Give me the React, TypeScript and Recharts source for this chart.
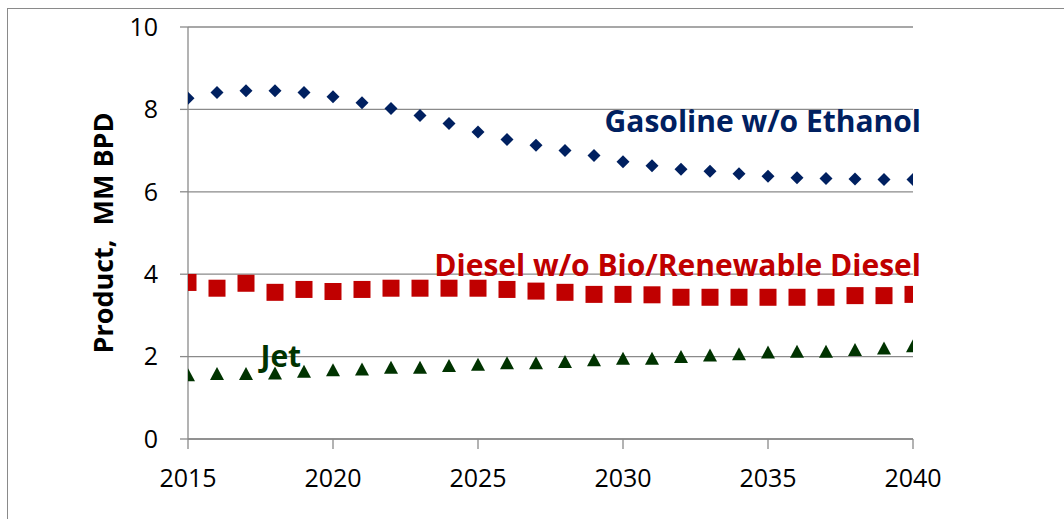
import React from "react";
import {
  ScatterChart,
  Scatter,
  XAxis,
  YAxis,
  CartesianGrid,
  ReferenceDot,
} from "recharts";

const years = [
  2015, 2016, 2017, 2018, 2019, 2020, 2021, 2022, 2023, 2024, 2025, 2026, 2027,
  2028, 2029, 2030, 2031, 2032, 2033, 2034, 2035, 2036, 2037, 2038, 2039, 2040,
];
const gasoline = [
  8.27, 8.41, 8.45, 8.45, 8.41, 8.31, 8.16, 8.02, 7.85, 7.66, 7.45, 7.27, 7.13,
  7.0, 6.88, 6.73, 6.63, 6.55, 6.5, 6.44, 6.38, 6.34, 6.32, 6.31, 6.3, 6.3,
];
const diesel = [
  3.8, 3.66, 3.78, 3.56, 3.63, 3.58, 3.63, 3.66, 3.66, 3.66, 3.66, 3.63, 3.59,
  3.56, 3.51, 3.51, 3.5, 3.44, 3.44, 3.44, 3.44, 3.44, 3.44, 3.48, 3.48, 3.51,
];
const jet = [
  1.53, 1.56, 1.56, 1.57, 1.61, 1.65, 1.67, 1.71, 1.71, 1.75, 1.78, 1.82, 1.82,
  1.85, 1.89, 1.93, 1.93, 1.97, 2.01, 2.04, 2.08, 2.1, 2.1, 2.14, 2.18, 2.23,
];
const xTicks = [2015, 2020, 2025, 2030, 2035, 2040];
const yTicks = [0, 2, 4, 6, 8, 10];

const seriesNames = ["Gasoline w/o Ethanol", "Diesel w/o Bio/Renewable Diesel", "Jet"];
const labelX = [2040, 2040, 2018.2];
const labelY = [7.72, 4.22, 2.01];

const COLORS = { gasoline: "#002060", diesel: "#C00000", jet: "#003300" };
const AXIS = "#8a8a8a";
const FONT = "'Open Sans', sans-serif";

const toPts = (vals: number[]) => years.map((x, i) => ({ x, y: vals[i] }));

const Diamond = (p: any) => {
  const { cx, cy, fill } = p;
  const h = 6.5;
  return <path d={`M${cx},${cy - h}L${cx + h},${cy}L${cx},${cy + h}L${cx - h},${cy}Z`} fill={fill} />;
};
const Square = (p: any) => {
  const { cx, cy, fill } = p;
  const s = 17;
  return <rect x={cx - s / 2} y={cy - s / 2} width={s} height={s} fill={fill} />;
};
const Triangle = (p: any) => {
  const { cx, cy, fill } = p;
  const w = 14, h = 13;
  return (
    <path
      d={`M${cx},${cy - h * 0.6}L${cx + w / 2},${cy + h * 0.4}L${cx - w / 2},${cy + h * 0.4}Z`}
      fill={fill}
    />
  );
};

const makeLabel = (text: string, color: string, anchor: "end" | "middle", dx: number) =>
  (props: any) => {
    const vb = props.viewBox || {};
    const cx = vb.x + (vb.width || 0) / 2;
    const cy = vb.y + (vb.height || 0) / 2;
    return (
      <text
        x={cx + dx}
        y={cy}
        dy="0.36em"
        textAnchor={anchor}
        fill={color}
        fontFamily={FONT}
        fontWeight={700}
        fontSize={30}
      >
        {text}
      </text>
    );
  };

export default function App() {
  return (
    <div style={{ position: "absolute", left: 0, top: 0, width: 1064, height: 519, background: "#fff", overflow: "hidden" }}>
      <div
        style={{
          position: "absolute",
          left: 7,
          top: 8,
          width: 1100,
          height: 600,
          borderLeft: `1px solid ${AXIS}`,
          borderTop: `1px solid ${AXIS}`,
        }}
      />
      <div style={{ position: "absolute", left: 0, top: 0 }}>
        <ScatterChart width={1064} height={519} margin={{ top: 27, right: 151, bottom: 0, left: 0 }}>
          <CartesianGrid horizontal vertical={false} stroke={AXIS} strokeWidth={1.3} />
          <XAxis
            type="number"
            dataKey="x"
            domain={[2015, 2040]}
            ticks={xTicks}
            height={80}
            tickSize={10}
            tickMargin={20}
            axisLine={{ stroke: AXIS, strokeWidth: 1.3 }}
            tickLine={{ stroke: AXIS, strokeWidth: 1.3 }}
            tick={{ fill: "#000", fontSize: 25, fontFamily: FONT }}
            allowDataOverflow
          />
          <YAxis
            type="number"
            dataKey="y"
            domain={[0, 10]}
            ticks={yTicks}
            width={188}
            tickSize={8}
            tickMargin={22}
            axisLine={{ stroke: AXIS, strokeWidth: 1.3 }}
            tickLine={{ stroke: AXIS, strokeWidth: 1.3 }}
            tick={{ fill: "#000", fontSize: 25, fontFamily: FONT }}
            label={{
              value: "Product,\u00a0 MM BPD",
              angle: -90,
              position: "insideLeft",
              dx: 98,
              style: { fontFamily: FONT, fontWeight: 700, fontSize: 27, fill: "#000", textAnchor: "middle" },
            }}
          />
          <Scatter data={toPts(gasoline)} fill={COLORS.gasoline} shape={Diamond} isAnimationActive={false} />
          <Scatter data={toPts(diesel)} fill={COLORS.diesel} shape={Square} isAnimationActive={false} />
          <Scatter data={toPts(jet)} fill={COLORS.jet} shape={Triangle} isAnimationActive={false} />
          <ReferenceDot x={labelX[0]} y={labelY[0]} r={0} stroke="none" label={makeLabel(seriesNames[0], COLORS.gasoline, "end", 8)} />
          <ReferenceDot x={labelX[1]} y={labelY[1]} r={0} stroke="none" label={makeLabel(seriesNames[1], COLORS.diesel, "end", 8)} />
          <ReferenceDot x={labelX[2]} y={labelY[2]} r={0} stroke="none" label={makeLabel(seriesNames[2], COLORS.jet, "middle", 0)} />
        </ScatterChart>
      </div>
    </div>
  );
}
